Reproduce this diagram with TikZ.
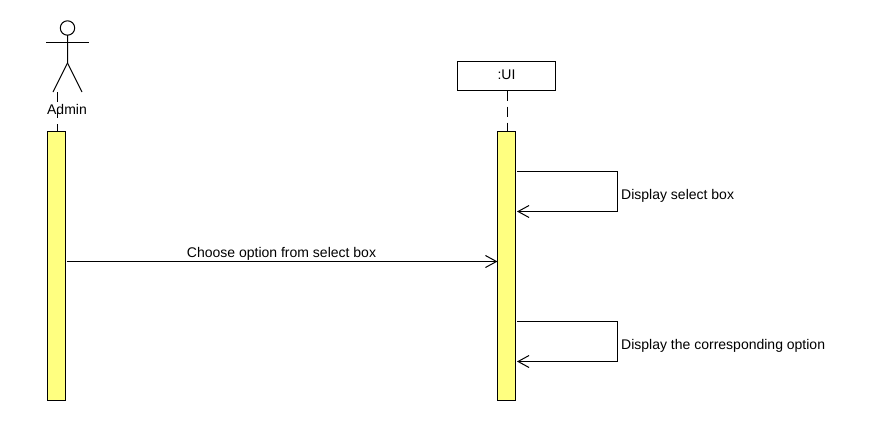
\documentclass[tikz,border=0pt]{standalone}
\usepackage{fontspec}
\setmainfont{Liberation Sans}
\usetikzlibrary{arrows.meta}
\definecolor{barfill}{HTML}{FFFF80}
\tikzset{
  bar/.style={draw, fill=barfill, line width=1pt, minimum width=18pt, minimum height=269pt, inner sep=0pt, anchor=north},
  objbox/.style={draw, fill=white, line width=1pt, minimum width=98pt, minimum height=29pt, inner sep=0pt},
  msg/.style={->, line width=1pt},
  lifeline/.style={line width=1pt, dash pattern=on 10pt off 6pt},
  lbl/.style={inner sep=0pt, font=\fontsize{14}{16}\selectfont},
}
\begin{document}
\begin{tikzpicture}[x=1pt, y=-1pt, >={Straight Barb[length=11pt, width=12pt, line width=1pt]}]
  \useasboundingbox (0,0) rectangle (893,428);
  % actor
  \draw[line width=1pt] (67.5,28) circle (7.2pt);
  \draw[line width=1pt] (46,42.5) -- (89,42.5);
  \draw[line width=1pt] (67.5,35) -- (67.5,63) -- (53,92);
  \draw[line width=1pt] (67.5,63) -- (82,92);
  \node[lbl, anchor=base] (admin) at (67,114) {Admin};
  \coordinate (adminfoot) at (57.5,92);
  % objects
  \node[objbox] (ui) at (506.5,76) {};
  \node[lbl, anchor=base] (uilabel) at (506.5,79) {:UI};
  \node[bar] (adminbar) at (56.5,131) {};
  \node[bar] (uibar) at (506.5,131) {};
  % lifelines
  \draw[lifeline] (adminfoot) -- (adminfoot |- adminbar.north);
  \draw[lifeline] (507,90.5) -- (507,131);
  % messages
  \coordinate (a1) at (517,171.5);
  \coordinate (a2) at (617.5,211.5);
  \coordinate (a3) at (517,211.5);
  \draw[msg] (a1) -| (a2) -- (a3);
  \node[lbl, anchor=base west] (m1) at (621,199) {Display select box};
  \coordinate (b1) at (66.5,261.5);
  \coordinate (b2) at (497.5,261.5);
  \draw[msg] (b1) -- (b2);
  \node[lbl, anchor=base] (m2) at (281.5,257) {Choose option from select box};
  \coordinate (c1) at (517,321.5);
  \coordinate (c2) at (617.5,361.5);
  \coordinate (c3) at (517,361.5);
  \draw[msg] (c1) -| (c2) -- (c3);
  \node[lbl, anchor=base west] (m3) at (621,349) {Display the corresponding option};
\end{tikzpicture}
\end{document}
